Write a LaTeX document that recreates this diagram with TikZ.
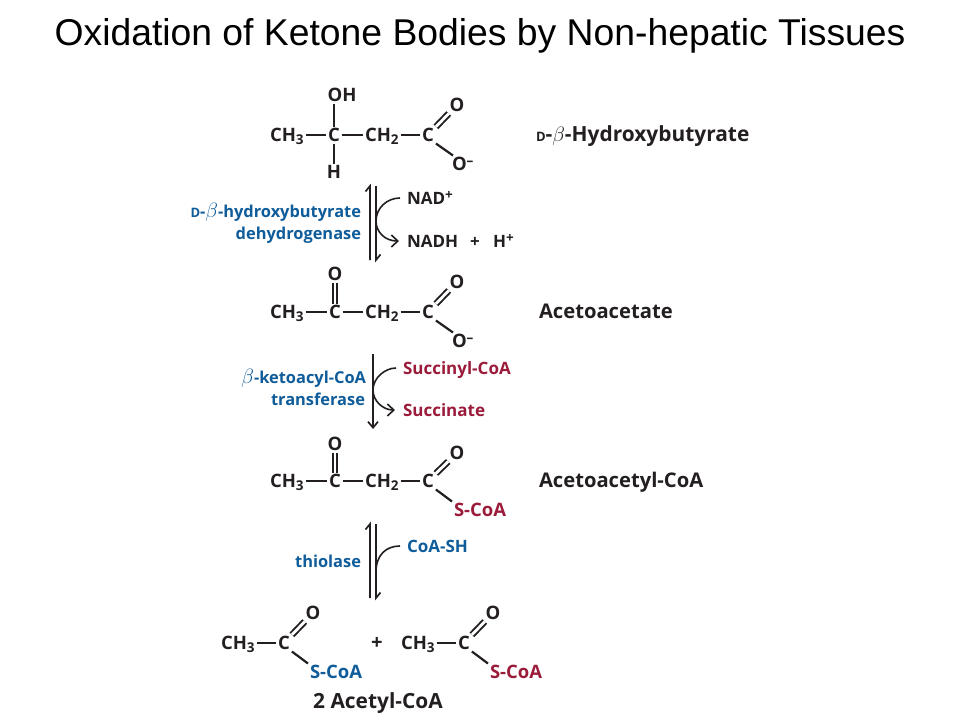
\documentclass[tikz,border=0pt]{standalone}
\usepackage{fontspec}
\setmainfont{Open Sans}
\newfontfamily\titlefont{Liberation Sans}
\usetikzlibrary{arrows.meta,calc}
\definecolor{ink}{HTML}{231F20}
\definecolor{enzblue}{HTML}{0F5C9A}
\definecolor{subred}{HTML}{9B1B3A}
\newcommand{\dnsub}[1]{\raisebox{-3.4pt}{\fontsize{13.5}{13.5}\selectfont #1}}
\newcommand{\upsup}[1]{\raisebox{5.5pt}{\fontsize{13.5}{13.5}\selectfont #1}}
\newcommand{\smD}{{\fontsize{13}{13}\selectfont D}}
\newcommand{\thinbeta}{{\fontsize{21}{21}\selectfont$\beta$}}
\tikzset{
  x=1pt,y=-1pt,
  atom/.style={inner sep=0pt,outer sep=2pt,text=ink,font=\fontsize{18.5}{18.5}\selectfont\bfseries,text height=13pt,text depth=0pt},
  lab/.style={inner sep=0pt,outer sep=0pt,text=ink,font=\fontsize{20.2}{20.2}\selectfont\bfseries,text height=13pt,text depth=0pt},
  biglab/.style={lab,font=\fontsize{20.9}{20.9}\selectfont\bfseries},
  enz/.style={lab,text=enzblue,anchor=east,font=\fontsize{16.4}{16.4}\selectfont\bfseries},
  rxn/.style={lab,anchor=west,font=\fontsize{17}{17}\selectfont\bfseries},
  bond/.style={draw=ink,line width=2.2pt},
  dbl/.style={draw=ink,line width=1.9pt,double=white,double distance=2.8pt},
  rail/.style={draw=ink,line width=1.7pt,line join=miter},
  swoop/.style={draw=ink,line width=1.6pt},
  fulltip/.style={-{Straight Barb[length=6.5pt,width=12pt]}}
}
\begin{document}
\begin{tikzpicture}
\useasboundingbox (0,0) rectangle (960,720);
\node[inner sep=0pt,text=black,font=\titlefont\fontsize{37.3}{37.3}\selectfont] (title) at (480,36) {Oxidation of Ketone Bodies by Non-hepatic Tissues};

% --- D-beta-hydroxybutyrate
\node[atom,anchor=west] (ch3a) at (268,135) {CH\dnsub{3}};
\node[atom] (c1a) at (334,135) {C};
\node[atom,anchor=west] (ch2a) at (363,135) {CH\dnsub{2}};
\node[atom] (c2a) at (428,135) {C};
\node[atom] (oh) at (342,95) {OH};
\node[atom] (ha) at (334,172) {H};
\node[atom] (o1a) at (457,105) {O};
\node[atom,anchor=west] (o2a) at (450,164) {O\upsup{--}};
\draw[bond] (ch3a) -- (c1a);
\draw[bond] (c1a) -- (ch2a);
\draw[bond] (ch2a) -- (c2a);
\draw[bond] (c1a.north) -- (c1a.north |- oh.south);
\draw[bond] (c1a.south) -- (c1a.south |- ha.north);
\draw[dbl] (c2a) -- (o1a);
\draw[bond] (c2a.south east) -- ($(o2a.north west)+(3,0)$);
\node[biglab,anchor=west] (name1) at (536,135) {\smD-\thinbeta-Hydroxybutyrate};

% --- arrow 1
\coordinate (a1top) at (370,186);
\coordinate (a1bot) at (370,260);
\coordinate (b1top) at (376,186);
\coordinate (b1bot) at (376,260);
\draw[rail] (a1bot) -- (a1top) -- ++(-4.5,5.5);
\draw[rail] (b1top) -- (b1bot) -- ++(4.5,-5.5);
\node[rxn] (nad) at (407,198) {NAD\upsup{+}};
\node[rxn] (nadh) at (407,241) {NADH};
\node[rxn] (plus1) at (470,241) {+};
\node[rxn] (hp) at (493,241) {H\upsup{+}};
\draw[swoop,fulltip,shorten >=8pt,shorten <=7pt] (nad.west) .. controls (387,198) and (376,208) .. (376,221) .. controls (376,232) and (385,241) .. (nadh.west);
\node[enz] (e1a) at (361,211) {\smD-\thinbeta-hydroxybutyrate};
\node[enz] (e1b) at (361,233) {dehydrogenase};

% --- acetoacetate
\node[atom,anchor=west] (ch3b) at (268,312) {CH\dnsub{3}};
\node[atom] (c1b) at (335,312) {C};
\node[atom,anchor=west] (ch2b) at (363,312) {CH\dnsub{2}};
\node[atom] (c2b) at (428,312) {C};
\node[atom] (o0b) at (335,274) {O};
\node[atom] (o1b) at (457,282) {O};
\node[atom,anchor=west] (o2b) at (450,341) {O\upsup{--}};
\draw[bond] (ch3b) -- (c1b);
\draw[bond] (c1b) -- (ch2b);
\draw[bond] (ch2b) -- (c2b);
\draw[dbl] (c1b) -- (o0b);
\draw[dbl] (c2b) -- (o1b);
\draw[bond] (c2b.south east) -- ($(o2b.north west)+(3,0)$);
\node[lab,anchor=west] (name2) at (539,312) {Acetoacetate};

% --- arrow 2
\coordinate (a2top) at (373,354);
\coordinate (a2bot) at (373,429);
\draw[rail,-{Straight Barb[length=6pt,width=10pt]}] (a2top) -- (a2bot);
\node[rxn,text=subred] (sca) at (403,368) {Succinyl-CoA};
\node[rxn,text=subred] (suc) at (403,410) {Succinate};
\draw[swoop,fulltip,shorten >=8pt,shorten <=7pt] (sca.west) .. controls (385,368) and (373,378) .. (373,390) .. controls (373,401) and (383,410) .. (suc.west);
\node[enz] (e2a) at (366,377) {\thinbeta-ketoacyl-CoA};
\node[enz] (e2b) at (365,399) {transferase};

% --- acetoacetyl-CoA
\node[atom,anchor=west] (ch3c) at (268,481) {CH\dnsub{3}};
\node[atom] (c1c) at (335,481) {C};
\node[atom,anchor=west] (ch2c) at (363,481) {CH\dnsub{2}};
\node[atom] (c2c) at (428,481) {C};
\node[atom] (o0c) at (335,444) {O};
\node[atom] (o1c) at (457,453) {O};
\node[atom,anchor=west,text=subred] (sc) at (452,510) {S-CoA};
\draw[bond] (ch3c) -- (c1c);
\draw[bond] (c1c) -- (ch2c);
\draw[bond] (ch2c) -- (c2c);
\draw[dbl] (c1c) -- (o0c);
\draw[dbl] (c2c) -- (o1c);
\draw[bond] (c2c.south east) -- (sc.north west);
\node[lab,anchor=west] (name3) at (539,481) {Acetoacetyl-CoA};

% --- arrow 3
\coordinate (a3top) at (370,524);
\coordinate (a3bot) at (370,598);
\coordinate (b3top) at (376,524);
\coordinate (b3bot) at (376,598);
\draw[rail] (a3bot) -- (a3top) -- ++(-4.5,5.5);
\draw[rail] (b3top) -- (b3bot) -- ++(4.5,-5.5);
\node[rxn,text=enzblue] (coa) at (407,546) {CoA-SH};
\coordinate (j3) at (376,572);
\draw[swoop,shorten <=7pt] (coa.west) .. controls (386,546) and (376,555) .. (j3);
\node[enz] (e3) at (361,561) {thiolase};

% --- acetyl-CoA
\node[atom,anchor=west] (ch3d) at (219,643) {CH\dnsub{3}};
\node[atom] (c1d) at (284,643) {C};
\node[atom] (o1d) at (313,613) {O};
\node[atom,anchor=west,text=enzblue] (sd) at (308,672) {S-CoA};
\draw[bond] (ch3d) -- (c1d);
\draw[dbl] (c1d) -- (o1d);
\draw[bond] (c1d.south east) -- (sd.north west);
\node[lab] (plus2) at (377,643) {+};
\node[atom,anchor=west] (ch3e) at (399,643) {CH\dnsub{3}};
\node[atom] (c1e) at (464,643) {C};
\node[atom] (o1e) at (493,613) {O};
\node[atom,anchor=west,text=subred] (se) at (488,672) {S-CoA};
\draw[bond] (ch3e) -- (c1e);
\draw[dbl] (c1e) -- (o1e);
\draw[bond] (c1e.south east) -- (se.north west);
\node[biglab] (name4) at (378,702) {2 Acetyl-CoA};
\end{tikzpicture}
\end{document}
